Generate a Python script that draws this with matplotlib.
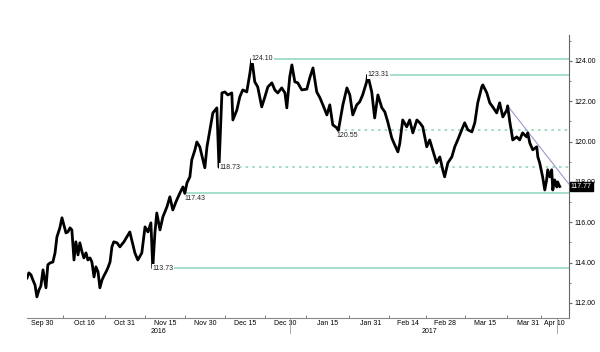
import numpy as np
import matplotlib
matplotlib.use('Agg')
import matplotlib.pyplot as plt
import matplotlib.dates as mdates
import matplotlib.transforms as mtransforms
from datetime import datetime

plt.rcParams['font.family'] = ['Liberation Sans', 'DejaVu Sans']

# price path, days counted from 30 Sep 2016
days = [-5.6, -4.9, -4.1, -3.4, -2.6, -1.9, -1.1, -0.4, 0.4, 1.5, 2.2, 3.0, 4.1, 4.9,
        5.6, 6.7, 7.5, 8.2, 9.0, 9.7, 10.5, 11.2, 12.0, 12.7, 13.5, 14.2, 15.0, 15.7,
        16.5, 17.2, 18.0, 18.7, 19.5, 20.2, 21.0, 21.7, 22.5, 23.2, 24.0, 24.7, 25.5,
        26.2, 26.9, 28.1, 29.2, 30.7, 32.9, 34.8, 35.9, 37.4, 38.6, 39.7, 40.8, 41.5,
        42.3, 43.0, 44.2, 45.3, 46.8, 47.9, 49.0, 50.5, 51.7, 52.8, 53.5, 54.3, 55.4,
        56.1, 57.3, 58.0, 59.1, 60.3, 61.0, 61.8, 62.9, 64.0, 65.5, 66.3, 67.4, 68.5,
        69.6, 71.1, 71.5, 73.0, 74.1, 75.2, 76.7, 77.9, 78.6, 79.7, 80.8, 82.3, 83.5,
        84.6, 86.1, 87.2, 88.3, 89.8, 91.0, 91.7, 92.8, 93.6, 94.7, 95.8, 97.3, 99.2,
        100.3, 101.5, 102.9, 104.1, 105.2, 106.7, 107.8, 108.9, 110.4, 111.0, 112.7,
        114.2, 115.3, 116.4, 117.9, 119.0, 120.1, 121.6, 122.0, 123.5, 124.6, 125.8,
        127.3, 128.4, 129.5, 131.0, 132.1, 133.3, 134.0, 135.1, 136.6, 137.7, 138.9,
        140.4, 141.5, 142.6, 144.1, 145.2, 146.3, 147.8, 149.0, 150.1, 150.8, 152.0,
        153.5, 154.6, 155.7, 157.2, 158.3, 159.5, 161.0, 162.1, 163.2, 164.7, 165.1,
        166.6, 167.7, 168.8, 170.3, 171.4, 172.6, 174.1, 174.4, 175.2, 175.9, 176.3,
        177.8, 178.9, 180.0, 181.5, 181.9, 182.7, 183.8, 185.3, 185.7, 186.4, 187.5,
        188.3, 189.0, 189.4, 190.2, 190.9, 191.3, 192.0, 192.8, 193.1, 193.9]
price = [113.24, 113.49, 113.39, 113.14, 112.89, 112.30, 112.65, 112.84, 113.64, 112.75,
         113.89, 113.98, 114.03, 114.48, 115.27, 115.72, 116.22, 115.87, 115.47, 115.52,
         115.72, 115.62, 114.13, 115.03, 114.38, 114.98, 114.53, 114.23, 114.48, 114.13,
         114.23, 114.03, 113.29, 113.79, 113.54, 112.75, 113.14, 113.34, 113.54, 113.74,
         114.03, 114.78, 115.03, 114.98, 114.78, 115.03, 115.52, 114.48, 114.13, 114.48,
         115.77, 115.52, 115.97, 113.73, 115.47, 116.46, 115.62, 116.27, 116.76, 117.26,
         116.61, 117.11, 117.46, 117.75, 117.43, 117.95, 118.25, 119.09, 119.59, 119.98,
         119.74, 119.09, 118.70, 119.74, 120.58, 121.42, 121.67, 118.73, 122.41, 122.46,
         122.31, 122.41, 121.07, 121.57, 122.22, 122.56, 122.46, 123.41, 124.10, 122.96,
         122.71, 121.72, 122.22, 122.71, 122.91, 122.56, 122.41, 122.66, 122.41, 121.67,
         123.21, 123.80, 122.96, 122.91, 122.56, 122.60, 123.16, 123.65, 122.46, 122.17,
         121.82, 121.32, 121.82, 120.83, 120.68, 120.55, 121.82, 122.66, 122.31, 121.32,
         121.82, 121.97, 122.31, 122.96, 123.31, 122.46, 121.17, 122.31, 121.67, 121.47,
         120.98, 120.18, 119.84, 119.49, 119.90, 121.07, 120.73, 121.07, 120.43, 121.07,
         120.93, 120.73, 119.74, 120.08, 119.59, 118.94, 119.24, 118.60, 118.25, 118.94,
         119.24, 119.74, 120.08, 120.58, 120.93, 120.58, 120.48, 120.93, 121.92, 122.71,
         122.81, 122.41, 121.92, 121.72, 121.42, 121.92, 121.22, 121.57, 121.77, 120.98,
         120.43, 120.08, 120.23, 120.08, 120.43, 120.23, 120.43, 119.93, 119.59, 119.74,
         119.24, 118.94, 118.25, 117.60, 118.10, 118.60, 118.25, 118.60, 117.60, 118.10,
         117.75, 118.00, 117.77]

solid_levels = [124.10, 123.31, 117.43, 113.73]
solid_start = [78.6, 122.0, 53.5, 41.5]
dashed_levels = [120.55, 118.73]
dashed_start = [111.0, 66.3]
trend_days = [174.4, 197.3]
trend_vals = [121.77, 117.90]
last_price = 117.77

tick_dates = ['2016-09-30', '2016-10-16', '2016-10-31', '2016-11-15', '2016-11-30',
              '2016-12-15', '2016-12-30', '2017-01-15', '2017-01-31', '2017-02-14',
              '2017-02-28', '2017-03-15', '2017-03-31', '2017-04-10']
tick_labels = ['Sep 30', 'Oct 16', 'Oct 31', 'Nov 15', 'Nov 30', 'Dec 15', 'Dec 30',
               'Jan 15', 'Jan 31', 'Feb 14', 'Feb 28', 'Mar 15', 'Mar 31', 'Apr 10']
yticks = [112, 114, 116, 118, 120, 122, 124]

base = mdates.date2num(datetime(2016, 9, 30))
x = base + np.array(days)
xmin, xmax = base - 5.6, base + 197.3

fig = plt.figure(figsize=(6, 3.52), dpi=100)
ax = fig.add_axes([0.045, 0.097, 0.903, 0.804])

green = '#a6dfc9'
for lvl, st in zip(solid_levels, solid_start):
    ax.plot([base + st, xmax], [lvl, lvl], color=green, lw=1.4, zorder=1)
for lvl, st in zip(dashed_levels, dashed_start):
    ax.plot([base + st, xmax], [lvl, lvl], color='#8fd6b8', lw=1.2,
            ls=(0, (1.5, 2.5)), zorder=1)

ax.plot(x, price, color='black', lw=2.0, zorder=3)
ax.plot(base + np.array(trend_days), trend_vals, color='#9a9ac8', lw=0.8, zorder=2)

# level labels
for lvl, st in [(124.10, 78.6), (123.31, 122.0), (118.73, 66.3), (113.73, 41.5)]:
    ax.text(base + st, lvl, f'{lvl:.2f}', fontsize=5, va='center', ha='left',
            color='#222222', zorder=4,
            bbox=dict(facecolor='white', edgecolor='none', pad=0.3))
for lvl, st in [(120.55, 110.2), (117.43, 53.5)]:
    ax.annotate(f'{lvl:.2f}', (base + st, lvl), xytext=(0, -3.5),
                textcoords='offset points', fontsize=5, va='center', ha='left',
                color='#222222', zorder=4)

ax.set_xlim(xmin, xmax)
ax.set_ylim(111.26, 125.29)

for s in ['left', 'top']:
    ax.spines[s].set_visible(False)
ax.spines['bottom'].set_color('#888888')
ax.spines['right'].set_color('#666666')
ax.spines['bottom'].set_linewidth(0.8)
ax.spines['right'].set_linewidth(0.8)

tick_x = [mdates.date2num(datetime.strptime(d, '%Y-%m-%d')) for d in tick_dates]
ax.set_xticks(tick_x)
ax.set_xticklabels(tick_labels, fontsize=5)
ax.set_xticks([(a + b) / 2 for a, b in zip(tick_x[:-1], tick_x[1:])], minor=True)
ax.tick_params(axis='x', which='major', length=0, pad=1.2)
ax.tick_params(axis='x', which='minor', length=2, direction='in', color='#666666')

ax.yaxis.tick_right()
ax.set_yticks(yticks)
ax.set_yticklabels([f'{v:.2f}' for v in yticks], fontsize=5)
ax.set_yticks(np.arange(112, 126, 1), minor=True)
ax.tick_params(axis='y', which='major', length=2.5, pad=1.5, color='#666666')
ax.tick_params(axis='y', which='minor', length=1.5, color='#666666')

# year labels and separators
jan1 = mdates.date2num(datetime(2017, 1, 1))
trans = mtransforms.blended_transform_factory(ax.transData, ax.transAxes)
ax.text((xmin + jan1) / 2, -0.036, '2016', transform=trans, fontsize=5,
        ha='center', va='top')
ax.text((jan1 + xmax) / 2, -0.036, '2017', transform=trans, fontsize=5,
        ha='center', va='top')
for xv in [jan1, x[-1] - 1]:
    ax.plot([xv, xv], [0, -0.055], transform=trans, color='#aaaaaa', lw=0.7,
            clip_on=False)

# last price tag
ax.annotate(f'{last_price:.2f}', (1, last_price),
            xycoords=mtransforms.blended_transform_factory(ax.transAxes, ax.transData),
            xytext=(1.5, 0), textcoords='offset points', fontsize=5, color='white',
            va='center', ha='left', zorder=5,
            bbox=dict(facecolor='black', edgecolor='black', pad=0.8))

fig.savefig('out.png', dpi=100, facecolor='white')
